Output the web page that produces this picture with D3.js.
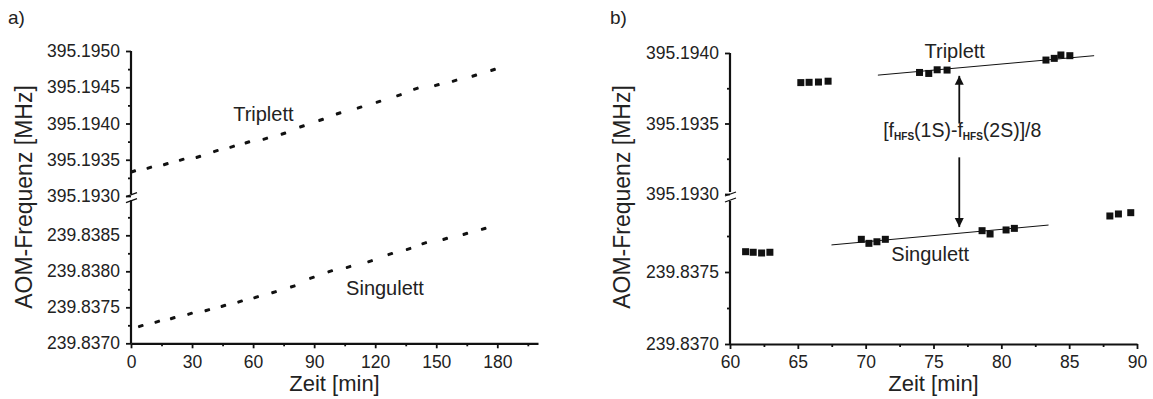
<!DOCTYPE html>
<html>
<head>
<meta charset="utf-8">
<script src="https://cdn.jsdelivr.net/npm/d3@7"></script>
<style>
  body { margin: 0; background: #fff; }
  svg text { font-family: "Liberation Sans", Arial, sans-serif; fill: #222; }
</style>
</head>
<body>
<div id="chart"></div>
<script>
// panel a) - long run, both lines
var aTripTime = [1.1, 9.0, 17.1, 24.9, 33.1, 41.7, 49.7, 57.2, 66.0, 74.9, 84.0, 93.4, 102.0, 112.3, 121.6, 131.7, 140.0, 150.3, 159.0, 168.7, 177.9];
var aTripFreq = [395.19334, 395.19339, 395.19344, 395.19350, 395.19354, 395.19362, 395.19368, 395.19374, 395.19379, 395.19386, 395.19396,
                 395.19405, 395.19414, 395.19422, 395.19430, 395.19439, 395.19448, 395.19453, 395.19459, 395.19466, 395.19474];
var aSingTime = [4.8, 12.9, 20.5, 29.0, 37.5, 45.4, 53.6, 61.5, 70.3, 79.5, 88.9, 97.9, 106.9, 117.5, 127.4, 136.4, 144.1, 154.4, 164.3, 173.3];
var aSingFreq = [239.83724, 239.83730, 239.83735, 239.83741, 239.83746, 239.83752, 239.83758, 239.83764, 239.83771, 239.83779,
                 239.83791, 239.83800, 239.83806, 239.83814, 239.83824, 239.83831, 239.83839, 239.83845, 239.83852, 239.83859];

// panel b) - zoom, 60..90 min
var bTripTime = [65.22, 65.83, 66.52, 67.23, 73.97, 74.65, 75.27, 76.00, 83.29, 83.90, 84.39, 85.05];
var bTripFreq = [395.193790, 395.193792, 395.193794, 395.193800, 395.193862, 395.193855, 395.193881, 395.193879,
                 395.193950, 395.193962, 395.193986, 395.193981];
var bSingTime = [61.15, 61.71, 62.33, 62.94, 69.68, 70.24, 70.83, 71.45, 78.58, 79.17, 80.35, 80.96, 88.0, 88.63, 89.54];
var bSingFreq = [239.837641, 239.837637, 239.837632, 239.837637, 239.837727, 239.837699, 239.837710, 239.837727,
                 239.837787, 239.837764, 239.837792, 239.837803, 239.837889, 239.837903, 239.837912];
var bTripFit = [[70.9, 395.193843], [86.84, 395.193981]];
var bSingFit = [[67.48, 239.837688], [83.48, 239.837826]];

// ticks
var aXTicks = [0, 30, 60, 90, 120, 150, 180];
var aXMinor = [15, 45, 75, 105, 135, 165, 195];
var aUpTicks = [395.1930, 395.1935, 395.1940, 395.1945, 395.1950];
var aUpMinor = [395.19325, 395.19375, 395.19425, 395.19475];
var aLoTicks = [239.8370, 239.8375, 239.8380, 239.8385];
var aLoMinor = [239.83725, 239.83775, 239.83825, 239.83875];
var bXTicks = [60, 65, 70, 75, 80, 85, 90];
var bXMinor = [62.5, 67.5, 72.5, 77.5, 82.5, 87.5];
var bUpTicks = [395.1930, 395.1935, 395.1940];
var bUpMinor = [395.19325, 395.19375];
var bLoTicks = [239.8370, 239.8375];
var bLoMinor = [239.83725, 239.83775];

var svg = d3.select("#chart").append("svg")
  .attr("width", 1153).attr("height", 399);

var defs = svg.append("defs");
defs.append("marker")
  .attr("id", "head")
  .attr("viewBox", "0 0 10 10")
  .attr("refX", 10).attr("refY", 5)
  .attr("markerWidth", 9).attr("markerHeight", 10)
  .attr("markerUnits", "userSpaceOnUse")
  .attr("orient", "auto")
  .append("path").attr("d", "M0,0 L10,5 L0,10 z").attr("fill", "#111");

function drawPanel(p) {
  var g = svg.append("g");
  var x = d3.scaleLinear().domain(p.xDomain).range(p.xRange);
  var yUp = d3.scaleLinear().domain(p.upDomain).range(p.upRange);
  var yLo = d3.scaleLinear().domain(p.loDomain).range(p.loRange);

  // x axis
  var xa = g.append("g").attr("transform", "translate(0," + p.loRange[0] + ")");
  xa.call(d3.axisBottom(x).tickValues(p.xTicks).tickSize(5).tickPadding(7).tickSizeOuter(0));
  xa.append("g").call(d3.axisBottom(x).tickValues(p.xMinor).tickSize(3).tickFormat(""))
    .select(".domain").remove();
  xa.select(".domain").attr("stroke", "#111").attr("stroke-width", 2.2);

  // y axis, two pieces
  [[yUp, p.upTicks, p.upMinor], [yLo, p.loTicks, p.loMinor]].forEach(function (s) {
    var ya = g.append("g").attr("transform", "translate(" + p.xRange[0] + ",0)");
    ya.call(d3.axisLeft(s[0]).tickValues(s[1]).tickSize(5).tickPadding(6).tickFormat(d3.format(".4f")));
    ya.append("g").call(d3.axisLeft(s[0]).tickValues(s[2]).tickSize(3).tickFormat(""));
    ya.selectAll(".domain").remove();
  });
  g.selectAll(".tick line").attr("stroke", "#111").attr("stroke-width", 1.8);
  g.selectAll(".tick text").style("font-size", "17.5px").attr("fill", "#222");

  var x0 = p.xRange[0];
  g.append("line").attr("x1", x0).attr("x2", x0)
    .attr("y1", p.upRange[1]).attr("y2", p.upRange[0] - 2)
    .attr("stroke", "#111").attr("stroke-width", 2.2);
  g.append("line").attr("x1", x0).attr("x2", x0)
    .attr("y1", p.loRange[1] + 1).attr("y2", p.loRange[0])
    .attr("stroke", "#111").attr("stroke-width", 2.2);
  // break marks
  var mid = (p.upRange[0] + p.loRange[1]) / 2;
  [-3, 3].forEach(function (o) {
    g.append("line").attr("x1", x0 - 5).attr("x2", x0 + 6)
      .attr("y1", mid + o + 2).attr("y2", mid + o - 2)
      .attr("stroke", "#111").attr("stroke-width", 1.3);
  });

  // titles
  g.append("text")
    .attr("transform", "translate(" + p.yTitleX + "," + p.yTitleY + ") rotate(-90)")
    .attr("text-anchor", "middle").style("font-size", "23px")
    .text("AOM-Frequenz [MHz]");
  g.append("text")
    .attr("x", x(p.xTitleAt)).attr("y", 391)
    .attr("text-anchor", "middle").style("font-size", "22px")
    .text("Zeit [min]");
  g.append("text")
    .attr("x", p.tagX).attr("y", 24).style("font-size", "19px").text(p.tag);

  return { g: g, x: x, yUp: yUp, yLo: yLo };
}

// ----- panel a -----
var a = drawPanel({
  xDomain: [0, 200], xRange: [131, 538],
  upDomain: [395.1930, 395.1950], upRange: [196, 51],
  loDomain: [239.8370, 239.8390], loRange: [343.3, 199.3],
  xTicks: aXTicks, xMinor: aXMinor,
  upTicks: aUpTicks, upMinor: aUpMinor,
  loTicks: aLoTicks, loMinor: aLoMinor,
  yTitleX: 32, yTitleY: 197, xTitleAt: 100, tag: "a)", tagX: 8
});

function dashes(panel, times, freqs, yScale) {
  panel.g.append("g").selectAll("rect")
    .data(times.map(function (t, i) { return [t, freqs[i]]; }))
    .join("rect")
    .attr("x", -2.8).attr("y", -1.5)
    .attr("width", 5.6).attr("height", 3)
    .attr("rx", 0.8)
    .attr("fill", "#111")
    .attr("transform", function (d) {
      return "translate(" + panel.x(d[0]) + "," + yScale(d[1]) + ") rotate(-18)";
    });
}
dashes(a, aTripTime, aTripFreq, a.yUp);
dashes(a, aSingTime, aSingFreq, a.yLo);

a.g.append("text").attr("x", a.x(50.2)).attr("y", a.yUp(395.19404))
  .style("font-size", "20px").text("Triplett");
a.g.append("text").attr("x", a.x(105.7)).attr("y", a.yLo(239.83767))
  .style("font-size", "20px").text("Singulett");

// ----- panel b -----
var b = drawPanel({
  xDomain: [60, 90], xRange: [730, 1137],
  upDomain: [395.1930, 395.1940], upRange: [194, 53],
  loDomain: [239.8370, 239.8380], loRange: [344, 200],
  xTicks: bXTicks, xMinor: bXMinor,
  upTicks: bUpTicks, upMinor: bUpMinor,
  loTicks: bLoTicks, loMinor: bLoMinor,
  yTitleX: 630, yTitleY: 197, xTitleAt: 75, tag: "b)", tagX: 610
});

function fit(panel, pts, yScale) {
  panel.g.append("line")
    .attr("x1", panel.x(pts[0][0])).attr("y1", yScale(pts[0][1]))
    .attr("x2", panel.x(pts[1][0])).attr("y2", yScale(pts[1][1]))
    .attr("stroke", "#111").attr("stroke-width", 1);
}
fit(b, bTripFit, b.yUp);
fit(b, bSingFit, b.yLo);

function squares(panel, times, freqs, yScale) {
  panel.g.append("g").selectAll("rect")
    .data(times.map(function (t, i) { return [t, freqs[i]]; }))
    .join("rect")
    .attr("x", function (d) { return panel.x(d[0]) - 3.5; })
    .attr("y", function (d) { return yScale(d[1]) - 3.5; })
    .attr("width", 7).attr("height", 7)
    .attr("fill", "#111");
}
squares(b, bTripTime, bTripFreq, b.yUp);
squares(b, bSingTime, bSingFreq, b.yLo);

b.g.append("text").attr("x", b.x(74.34)).attr("y", b.yUp(395.193962))
  .style("font-size", "20px").text("Triplett");
b.g.append("text").attr("x", b.x(71.89)).attr("y", b.yLo(239.837576))
  .style("font-size", "20px").text("Singulett");

// arrows for the hyperfine difference
var arrowT = 76.9;
b.g.append("line")
  .attr("x1", b.x(arrowT)).attr("x2", b.x(arrowT))
  .attr("y1", b.yUp(395.19350)).attr("y2", b.yUp(395.193838))
  .attr("stroke", "#111").attr("stroke-width", 1.8).attr("marker-end", "url(#head)");
b.g.append("line")
  .attr("x1", b.x(arrowT)).attr("x2", b.x(arrowT))
  .attr("y1", b.yUp(395.19326)).attr("y2", b.yLo(239.837812))
  .attr("stroke", "#111").attr("stroke-width", 1.8).attr("marker-end", "url(#head)");

var lbl = b.g.append("text")
  .attr("x", b.x(arrowT) + 3).attr("y", b.yUp(395.193405))
  .attr("text-anchor", "middle").style("font-size", "19.5px");
lbl.append("tspan").text("[f");
lbl.append("tspan").attr("dy", 3).style("font-size", "10px").style("font-weight", "bold").text("HFS");
lbl.append("tspan").attr("dy", -3).text("(1S)-f");
lbl.append("tspan").attr("dy", 3).style("font-size", "10px").style("font-weight", "bold").text("HFS");
lbl.append("tspan").attr("dy", -3).text("(2S)]/8");
</script>
</body>
</html>
